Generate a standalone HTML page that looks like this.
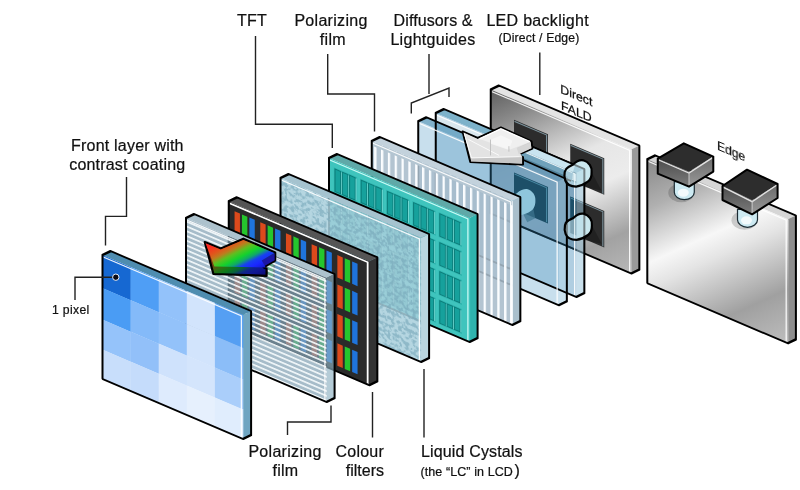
<!DOCTYPE html>
<html><head><meta charset="utf-8"><title>LCD layers</title>
<style>
html,body{margin:0;padding:0;background:#fff;}
body{width:800px;height:490px;overflow:hidden;font-family:"Liberation Sans",sans-serif;}
svg{display:block;}
text{font-family:"Liberation Sans",sans-serif;fill:#111;}
</style></head><body>
<svg width="800" height="490" viewBox="0 0 800 490">
<defs>
<linearGradient id="metal1" x1="0" y1="0" x2="1" y2="1">
 <stop offset="0" stop-color="#5e5e5e"/><stop offset="0.15" stop-color="#8a8a8a"/>
 <stop offset="0.42" stop-color="#e6e6e6"/><stop offset="0.58" stop-color="#ececec"/>
 <stop offset="0.82" stop-color="#a2a2a2"/><stop offset="1" stop-color="#b8b8b8"/>
</linearGradient>
<linearGradient id="metal2" x1="0" y1="0" x2="1" y2="1">
 <stop offset="0" stop-color="#888"/><stop offset="0.2" stop-color="#b0b0b0"/>
 <stop offset="0.42" stop-color="#f7f7f7"/><stop offset="0.52" stop-color="#e4e4e4"/>
 <stop offset="0.78" stop-color="#a0a0a0"/><stop offset="1" stop-color="#bebebe"/>
</linearGradient>
<linearGradient id="dif" x1="0" y1="0" x2="0" y2="1">
 <stop offset="0" stop-color="#78a9c8"/><stop offset="0.5" stop-color="#8fbbd6"/>
 <stop offset="0.52" stop-color="#a9cfe5"/><stop offset="1" stop-color="#bcdcee"/>
</linearGradient>
<linearGradient id="rgb" gradientUnits="userSpaceOnUse" x1="207.2" y1="244.6" x2="229.7" y2="289.1">
 <stop offset="0" stop-color="#ff2626"/><stop offset="0.1" stop-color="#f5341f"/>
 <stop offset="0.22" stop-color="#e0561c"/><stop offset="0.31" stop-color="#c07a1e"/><stop offset="0.41" stop-color="#5cc020"/>
 <stop offset="0.52" stop-color="#14d22c"/><stop offset="0.61" stop-color="#10a868"/>
 <stop offset="0.70" stop-color="#1840f0"/><stop offset="0.80" stop-color="#1a28ff"/><stop offset="1" stop-color="#1410b0"/>
</linearGradient>
<linearGradient id="rgbd" gradientUnits="userSpaceOnUse" x1="207.2" y1="251.6" x2="229.7" y2="296.1">
 <stop offset="0" stop-color="#ff2626"/><stop offset="0.1" stop-color="#f5341f"/>
 <stop offset="0.22" stop-color="#e0561c"/><stop offset="0.31" stop-color="#c07a1e"/><stop offset="0.41" stop-color="#5cc020"/>
 <stop offset="0.52" stop-color="#14d22c"/><stop offset="0.61" stop-color="#10a868"/>
 <stop offset="0.70" stop-color="#1840f0"/><stop offset="0.80" stop-color="#1a28ff"/><stop offset="1" stop-color="#1410b0"/>
</linearGradient>
<linearGradient id="boxl" x1="0" y1="0" x2="0" y2="1"><stop offset="0" stop-color="#4c4c4c"/><stop offset="1" stop-color="#7c7c7c"/></linearGradient>
<linearGradient id="boxr" x1="0" y1="0" x2="0" y2="1"><stop offset="0" stop-color="#6a6a6a"/><stop offset="1" stop-color="#999"/></linearGradient>
<pattern id="hstripe" width="8" height="4.77" patternUnits="userSpaceOnUse" y="-2.3">
 <rect width="8" height="4.77" fill="#84a3b4" fill-opacity="0.72"/><rect y="0" width="8" height="1.8" fill="#f4f9fc" fill-opacity="0.95"/>
</pattern>
<pattern id="vstripe" width="6.84" height="8" patternUnits="userSpaceOnUse" x="2.4">
 <rect width="6.84" height="8" fill="#a8bbca" fill-opacity="0.88"/><rect x="0" width="2.3" height="8" fill="#fbfdff"/>
</pattern>
<filter id="mottle" x="0" y="0" width="100%" height="100%" color-interpolation-filters="sRGB">
 <feTurbulence type="fractalNoise" baseFrequency="0.28" numOctaves="2" seed="11" result="n"/>
 <feColorMatrix in="n" type="matrix" values="0 0 0 0 0.47  0 0 0 0 0.66  0 0 0 0 0.73  9 0 0 0 -4.2"/>
 <feComposite operator="in" in2="SourceGraphic"/>
</filter>
</defs>
<rect width="800" height="490" fill="#fff"/>

<g transform="matrix(1 0.4270 0 1 647.3 159.3)">
<polygon points="0,0 8.1,-7.36 148.6,-7.36 140.5,0" fill="#d6d6d6"/><polygon points="140.5,0 148.6,-7.36 148.6,116.64 140.5,124.0" fill="#8e8e8e"/><rect x="0" y="0" width="141.2" height="124.0" fill="url(#metal2)"/>
<polyline points="1,1.6 138.9,1.6 138.9,123.0" fill="none" stroke="#fff" stroke-opacity="0.9" stroke-width="1.3"/><polygon points="0,0 8.1,-7.36 148.6,-7.36 148.6,116.64 140.5,124.0 0,124.0" fill="none" stroke="#000" stroke-width="2" stroke-linejoin="round"/>
</g>
<ellipse cx="681.3" cy="192.7" rx="13" ry="9.5" fill="#000" opacity="0.17"/><path d="M674.3,181.7 V192.2 a10,7.5 0 0 0 20,0 V181.7 z" fill="#cdeaf2" stroke="#1c2c34" stroke-width="1.2"/><ellipse cx="683.3" cy="192.7" rx="5.5" ry="4" fill="#fff" opacity="0.75"/><polygon points="657.75,158.7 689,171.7 689,186.7 657.75,173.7" fill="url(#boxl)"/><polygon points="689,171.7 713.3,156.6 713.3,171.6 689,186.7" fill="url(#boxr)"/><polygon points="657.75,158.7 683.8,143.3 713.3,156.6 689,171.7" fill="#2d2d2d"/><polyline points="658.75,160.0 689,173.1 712.3,157.9" fill="none" stroke="#e4e4e4" stroke-width="1.3"/><line x1="689" y1="172.7" x2="689" y2="185.7" stroke="#c8c8c8" stroke-width="1"/><polygon points="657.75,158.7 683.8,143.3 713.3,156.6 713.3,171.6 689,186.7 657.75,173.7" fill="none" stroke="#000" stroke-width="2" stroke-linejoin="round"/>
<ellipse cx="744.5" cy="220.3" rx="13" ry="9.5" fill="#000" opacity="0.17"/><path d="M737.5,209.3 V219.8 a10,7.5 0 0 0 20,0 V209.3 z" fill="#cdeaf2" stroke="#1c2c34" stroke-width="1.2"/><ellipse cx="746.5" cy="220.3" rx="5.5" ry="4" fill="#fff" opacity="0.75"/><polygon points="722.5,186 752.1,200.3 752.1,214.3 722.5,200" fill="url(#boxl)"/><polygon points="752.1,200.3 777.6,184 777.6,198 752.1,214.3" fill="url(#boxr)"/><polygon points="722.5,186 747,169.7 777.6,184 752.1,200.3" fill="#2d2d2d"/><polyline points="723.5,187.3 752.1,201.70000000000002 776.6,185.3" fill="none" stroke="#e4e4e4" stroke-width="1.3"/><line x1="752.1" y1="201.3" x2="752.1" y2="213.3" stroke="#c8c8c8" stroke-width="1"/><polygon points="722.5,186 747,169.7 777.6,184 777.6,198 752.1,214.3 722.5,200" fill="none" stroke="#000" stroke-width="2" stroke-linejoin="round"/>
<g transform="matrix(1 0.4270 0 1 490.75 89.5)">
<polygon points="0,0 8.1,-7.36 148.6,-7.36 140.5,0" fill="#e4e4e4"/><polygon points="140.5,0 148.6,-7.36 148.6,116.64 140.5,124.0" fill="#9a9a9a"/><rect x="0" y="0" width="141.2" height="124.0" fill="url(#metal1)"/>
<rect x="23.25" y="20.3" width="34" height="36.5" fill="#2c2c2c"/>
<polyline points="23.75,21.7 55.85,21.7 55.85,56.3" fill="none" stroke="#7d949e" stroke-width="1.1"/>
<rect x="79.5" y="20.3" width="34" height="36.5" fill="#2c2c2c"/>
<polyline points="80.0,21.7 112.1,21.7 112.1,56.3" fill="none" stroke="#7d949e" stroke-width="1.1"/>
<rect x="23.25" y="73" width="34" height="36.5" fill="#2c2c2c"/>
<polyline points="23.75,74.4 55.85,74.4 55.85,109" fill="none" stroke="#7d949e" stroke-width="1.1"/>
<rect x="79.5" y="73" width="34" height="36.5" fill="#2c2c2c"/>
<polyline points="80.0,74.4 112.1,74.4 112.1,109" fill="none" stroke="#7d949e" stroke-width="1.1"/>
<polyline points="1,1.6 138.9,1.6 138.9,123.0" fill="none" stroke="#fff" stroke-opacity="0.9" stroke-width="1.3"/><polygon points="0,0 8.1,-7.36 148.6,-7.36 148.6,116.64 140.5,124.0 0,124.0" fill="none" stroke="#000" stroke-width="2" stroke-linejoin="round"/>
</g>
<path d="M587.5,164.5 L601.5,190.5 L581.5,186.5 z" fill="#000" opacity="0.25"/><path d="M573.1,164.6 C576.5,161.0 580.7,160.0 583.2,160.3 C589.1,162.0 592.1,167.0 591.6,172.0 C591.8,177.0 589.6,180.5 587.8,181.7 C583.9,184.5 579.7,186.2 576.2,186.6 C570.2,186.5 566.6,184.0 565.3,180.5 C564.2,177.5 564.2,174.5 564.7,172.0 C565.3,169.5 566.6,168.0 568.5,167.0 Z" fill="#c4e4ec"/>
<path d="M531.25,193.2 L545.25,219.2 L525.25,215.2 z" fill="#000" opacity="0.25"/><path d="M516.8,193.3 C520.3,189.7 524.5,188.7 527.0,189.0 C532.9,190.7 535.8,195.7 535.4,200.7 C535.5,205.7 533.4,209.2 531.5,210.4 C527.6,213.2 523.4,214.9 520.0,215.3 C514.0,215.2 510.3,212.7 509.0,209.2 C508.0,206.2 508.0,203.2 508.4,200.7 C509.0,198.2 510.3,196.7 512.3,195.7 Z" fill="#c4e4ec"/>
<path d="M587.8,217.8 L601.8,243.8 L581.8,239.8 z" fill="#000" opacity="0.25"/><path d="M573.4,217.9 C576.8,214.3 581.0,213.3 583.5,213.6 C589.4,215.3 592.4,220.3 591.9,225.3 C592.0,230.3 589.9,233.8 588.1,235.0 C584.2,237.8 580.0,239.5 576.5,239.9 C570.5,239.8 566.9,237.3 565.6,233.8 C564.5,230.8 564.5,227.8 565.0,225.3 C565.6,222.8 566.9,221.3 568.8,220.3 Z" fill="#c4e4ec"/>
<clipPath id="cd2"><polygon points="435.75,113 576.25,173 576.25,297.0 435.75,237.0"/></clipPath>
<clipPath id="cd1"><polygon points="418.25,121.25 558.75,181.25 558.75,305.25 418.25,245.25"/></clipPath>
<g transform="matrix(1 0.4270 0 1 435.75 113)">
<polygon points="0,0 8.1,-7.36 148.6,-7.36 140.5,0" fill="#7db2ca"/>
<polygon points="140.5,0 148.6,-7.36 148.6,116.64 140.5,124.0" fill="#9cc6dc" opacity="0.55"/>
<rect width="140.5" height="124.0" fill="#80b0cf" opacity="0.62"/>
</g>
<g transform="matrix(1 0.4270 0 1 418.25 121.25)">
<polygon points="0,0 8.1,-7.36 148.6,-7.36 140.5,0" fill="#6aa3c2" opacity="0.85"/>
<polygon points="140.5,0 148.6,-7.36 148.6,116.64 140.5,124.0" fill="#b5d6e8" opacity="0.7"/>
<rect width="140.5" height="124.0" fill="#86b8d6" opacity="0.45"/>
</g>
<g clip-path="url(#cd2)">
<polygon points="490.75,89.5 631.25,149.5 631.25,273.5 490.75,213.5" fill="#6692ae" opacity="0.62"/>
<g transform="matrix(1 0.4270 0 1 490.75 89.5)">
<rect x="23.25" y="20.3" width="34" height="36.5" fill="#1d4f68"/>
<polyline points="23.75,21.7 55.85,21.7 55.85,56.3" fill="none" stroke="#4a8aa5" stroke-width="1.1"/>
<rect x="79.5" y="20.3" width="34" height="36.5" fill="#1d4f68"/>
<polyline points="80.0,21.7 112.1,21.7 112.1,56.3" fill="none" stroke="#4a8aa5" stroke-width="1.1"/>
<rect x="23.25" y="73" width="34" height="36.5" fill="#1d4f68"/>
<polyline points="23.75,74.4 55.85,74.4 55.85,109" fill="none" stroke="#4a8aa5" stroke-width="1.1"/>
<rect x="79.5" y="73" width="34" height="36.5" fill="#1d4f68"/>
<polyline points="80.0,74.4 112.1,74.4 112.1,109" fill="none" stroke="#4a8aa5" stroke-width="1.1"/>
</g>
<polyline points="490.75,89.5 490.75,213.5 631.25,273.5" fill="none" stroke="#102c3c" stroke-width="1.9" stroke-linejoin="round"/>
<path d="M523.25,214.2 L533.25,208.2 L535.25,218.2 L527.25,222.2 z" fill="#3f7690" opacity="0.7"/>
<path d="M516.8,193.3 C520.3,189.7 524.5,188.7 527.0,189.0 C532.9,190.7 535.8,195.7 535.4,200.7 C535.5,205.7 533.4,209.2 531.5,210.4 C527.6,213.2 523.4,214.9 520.0,215.3 C514.0,215.2 510.3,212.7 509.0,209.2 C508.0,206.2 508.0,203.2 508.4,200.7 C509.0,198.2 510.3,196.7 512.3,195.7 Z" fill="#8fc6dc"/>
</g>
<g transform="matrix(1 0.4270 0 1 435.75 113)">
<rect y="1" width="140.5" height="6.5" fill="#dfeaf0" opacity="0.9"/>
<line x1="0" y1="8" x2="140.5" y2="8" stroke="#fff" stroke-width="1.2"/>
<polyline points="1,1.6 138.9,1.6 138.9,123.0" fill="none" stroke="#fff" stroke-opacity="0.9" stroke-width="1.3"/><polygon points="0,0 8.1,-7.36 148.6,-7.36 148.6,116.64 140.5,124.0 0,124.0" fill="none" stroke="#000" stroke-width="2" stroke-linejoin="round"/>
</g>
<g transform="matrix(1 0.4270 0 1 418.25 121.25)">
<polyline points="1,1.6 138.9,1.6 138.9,123.0" fill="none" stroke="#fff" stroke-opacity="0.9" stroke-width="1.3"/><polygon points="0,0 8.1,-7.36 148.6,-7.36 148.6,116.64 140.5,124.0 0,124.0" fill="none" stroke="#000" stroke-width="2" stroke-linejoin="round"/>
</g>
<polygon points="521.5,150.5 573,172 572,181.5 520,158.5" fill="#5f97b3" opacity="0.85"/>
<polygon points="524,143.5 575,165 573,172 521.5,150.5" fill="#cfe8f3" opacity="0.92"/>
<polyline points="523,151.5 572,172.5" fill="none" stroke="#fff" stroke-width="1" opacity="0.85"/>
<polyline points="526,144 576,165.5" fill="none" stroke="#000" stroke-width="1.8"/>
<polyline points="520,158.5 571,181" fill="none" stroke="#000" stroke-width="1.8"/>
<path d="M573.1,164.6 C576.5,161.0 580.7,160.0 583.2,160.3 C589.1,162.0 592.1,167.0 591.6,172.0 C591.8,177.0 589.6,180.5 587.8,181.7 C583.9,184.5 579.7,186.2 576.2,186.6 C570.2,186.5 566.6,184.0 565.3,180.5 C564.2,177.5 564.2,174.5 564.7,172.0 C565.3,169.5 566.6,168.0 568.5,167.0 Z" fill="#cfeaf0" fill-opacity="0.55" stroke="#000" stroke-width="2.2" stroke-linejoin="round"/>
<path d="M573.4,217.9 C576.8,214.3 581.0,213.3 583.5,213.6 C589.4,215.3 592.4,220.3 591.9,225.3 C592.0,230.3 589.9,233.8 588.1,235.0 C584.2,237.8 580.0,239.5 576.5,239.9 C570.5,239.8 566.9,237.3 565.6,233.8 C564.5,230.8 564.5,227.8 565.0,225.3 C565.6,222.8 566.9,221.3 568.8,220.3 Z" fill="#cfeaf0" fill-opacity="0.55" stroke="#000" stroke-width="2.2" stroke-linejoin="round"/>
<polygon points="462.6,131.5 477.7,138 500.9,127.5 531.5,141.3 532.4,148.7 518,154.8 523,157.2 523,164.6 470.3,162.1" fill="#cfcfcf" stroke="#000" stroke-width="2" stroke-linejoin="round"/>
<polygon points="463.6,132.5 477.7,139.0 500.9,128.7 530.7,141.7 516.8,148.1 522.1,156.6 471.5,158.1" fill="#e3e3e3"/>
<polygon points="479.5,139.0 500.9,129.2 529.7,141.9 510.1,149.5" fill="#efefef"/>
<polygon points="490.5,140.1 500.9,135.2 512.5,140.7 508.9,149.9 490.5,143.8" fill="#f7f7f7" opacity="0.8"/>
<polygon points="471.5,158.1 522.1,156.6 522.1,163.7 470.9,161.5" fill="#c6c6c6"/>
<polygon points="530.7,142.2 531.4,148.3 518.7,154.2 516.8,148.3" fill="#d6d6d6"/>
<polyline points="479.5,138.8 500.9,128.8 529.9,141.7" fill="none" stroke="#fff" stroke-width="1.4"/>
<polyline points="464.2,133.4 471.5,157.9 521.7,156.6" fill="none" stroke="#fff" stroke-width="1" opacity="0.9"/>
<polyline points="468.5,139.5 499.1,155.4" fill="none" stroke="#fff" stroke-width="1" opacity="0.8"/>
<polyline points="490.5,139.5 490.5,155.4" fill="none" stroke="#bdbdbd" stroke-width="0.9"/>
<polyline points="508.9,146.2 508.9,151.7" fill="none" stroke="#bdbdbd" stroke-width="0.9"/>
<g transform="matrix(1 0.4270 0 1 371.75 141)">
<polygon points="0,0 8.1,-7.36 148.6,-7.36 140.5,0" fill="#c3d2dc"/><polygon points="140.5,0 148.6,-7.36 148.6,116.64 140.5,124.0" fill="#a9bfcc"/><rect x="0" y="0" width="141.2" height="124.0" fill="url(#vstripe)"/>
<rect x="0" y="0" width="140.5" height="4.6" fill="#b4c6d2"/>
<polyline points="1,1.6 138.9,1.6 138.9,123.0" fill="none" stroke="#fff" stroke-opacity="0.9" stroke-width="1.3"/><polygon points="0,0 8.1,-7.36 148.6,-7.36 148.6,116.64 140.5,124.0 0,124.0" fill="none" stroke="#000" stroke-width="2" stroke-linejoin="round"/>
</g>
<g transform="matrix(1 0.4270 0 1 329 158)">
<polygon points="0,0 8.1,-7.36 148.6,-7.36 140.5,0" fill="#5fa9a8"/><polygon points="140.5,0 148.6,-7.36 148.6,116.64 140.5,124.0" fill="#2fb3ad"/><rect x="0" y="0" width="141.2" height="124.0" fill="#3fc4bd"/>
<rect x="4.8" y="7.3" width="23.4" height="24.8" fill="#2fb5af"/>
<rect x="6.0" y="8.5" width="5.6" height="22.4" fill="#16a19c" stroke="#0b7c79" stroke-width="1"/>
<line x1="12.5" y1="9.0" x2="12.5" y2="30.9" stroke="#86e2dd" stroke-width="0.7"/>
<rect x="13.3" y="8.5" width="5.6" height="22.4" fill="#16a19c" stroke="#0b7c79" stroke-width="1"/>
<line x1="19.799999999999997" y1="9.0" x2="19.799999999999997" y2="30.9" stroke="#86e2dd" stroke-width="0.7"/>
<rect x="20.6" y="8.5" width="5.6" height="22.4" fill="#16a19c" stroke="#0b7c79" stroke-width="1"/>
<line x1="27.1" y1="9.0" x2="27.1" y2="30.9" stroke="#86e2dd" stroke-width="0.7"/>
<rect x="4.8" y="36.3" width="23.4" height="24.8" fill="#2fb5af"/>
<rect x="6.0" y="37.5" width="5.6" height="22.4" fill="#16a19c" stroke="#0b7c79" stroke-width="1"/>
<line x1="12.5" y1="38.0" x2="12.5" y2="59.9" stroke="#86e2dd" stroke-width="0.7"/>
<rect x="13.3" y="37.5" width="5.6" height="22.4" fill="#16a19c" stroke="#0b7c79" stroke-width="1"/>
<line x1="19.799999999999997" y1="38.0" x2="19.799999999999997" y2="59.9" stroke="#86e2dd" stroke-width="0.7"/>
<rect x="20.6" y="37.5" width="5.6" height="22.4" fill="#16a19c" stroke="#0b7c79" stroke-width="1"/>
<line x1="27.1" y1="38.0" x2="27.1" y2="59.9" stroke="#86e2dd" stroke-width="0.7"/>
<rect x="4.8" y="65.3" width="23.4" height="24.8" fill="#2fb5af"/>
<rect x="6.0" y="66.5" width="5.6" height="22.4" fill="#16a19c" stroke="#0b7c79" stroke-width="1"/>
<line x1="12.5" y1="67.0" x2="12.5" y2="88.9" stroke="#86e2dd" stroke-width="0.7"/>
<rect x="13.3" y="66.5" width="5.6" height="22.4" fill="#16a19c" stroke="#0b7c79" stroke-width="1"/>
<line x1="19.799999999999997" y1="67.0" x2="19.799999999999997" y2="88.9" stroke="#86e2dd" stroke-width="0.7"/>
<rect x="20.6" y="66.5" width="5.6" height="22.4" fill="#16a19c" stroke="#0b7c79" stroke-width="1"/>
<line x1="27.1" y1="67.0" x2="27.1" y2="88.9" stroke="#86e2dd" stroke-width="0.7"/>
<rect x="4.8" y="94.3" width="23.4" height="24.8" fill="#2fb5af"/>
<rect x="6.0" y="95.5" width="5.6" height="22.4" fill="#16a19c" stroke="#0b7c79" stroke-width="1"/>
<line x1="12.5" y1="96.0" x2="12.5" y2="117.9" stroke="#86e2dd" stroke-width="0.7"/>
<rect x="13.3" y="95.5" width="5.6" height="22.4" fill="#16a19c" stroke="#0b7c79" stroke-width="1"/>
<line x1="19.799999999999997" y1="96.0" x2="19.799999999999997" y2="117.9" stroke="#86e2dd" stroke-width="0.7"/>
<rect x="20.6" y="95.5" width="5.6" height="22.4" fill="#16a19c" stroke="#0b7c79" stroke-width="1"/>
<line x1="27.1" y1="96.0" x2="27.1" y2="117.9" stroke="#86e2dd" stroke-width="0.7"/>
<rect x="31.000000000000004" y="7.3" width="23.4" height="24.8" fill="#2fb5af"/>
<rect x="32.2" y="8.5" width="5.6" height="22.4" fill="#16a19c" stroke="#0b7c79" stroke-width="1"/>
<line x1="38.7" y1="9.0" x2="38.7" y2="30.9" stroke="#86e2dd" stroke-width="0.7"/>
<rect x="39.5" y="8.5" width="5.6" height="22.4" fill="#16a19c" stroke="#0b7c79" stroke-width="1"/>
<line x1="46.0" y1="9.0" x2="46.0" y2="30.9" stroke="#86e2dd" stroke-width="0.7"/>
<rect x="46.800000000000004" y="8.5" width="5.6" height="22.4" fill="#16a19c" stroke="#0b7c79" stroke-width="1"/>
<line x1="53.300000000000004" y1="9.0" x2="53.300000000000004" y2="30.9" stroke="#86e2dd" stroke-width="0.7"/>
<rect x="31.000000000000004" y="36.3" width="23.4" height="24.8" fill="#2fb5af"/>
<rect x="32.2" y="37.5" width="5.6" height="22.4" fill="#16a19c" stroke="#0b7c79" stroke-width="1"/>
<line x1="38.7" y1="38.0" x2="38.7" y2="59.9" stroke="#86e2dd" stroke-width="0.7"/>
<rect x="39.5" y="37.5" width="5.6" height="22.4" fill="#16a19c" stroke="#0b7c79" stroke-width="1"/>
<line x1="46.0" y1="38.0" x2="46.0" y2="59.9" stroke="#86e2dd" stroke-width="0.7"/>
<rect x="46.800000000000004" y="37.5" width="5.6" height="22.4" fill="#16a19c" stroke="#0b7c79" stroke-width="1"/>
<line x1="53.300000000000004" y1="38.0" x2="53.300000000000004" y2="59.9" stroke="#86e2dd" stroke-width="0.7"/>
<rect x="31.000000000000004" y="65.3" width="23.4" height="24.8" fill="#2fb5af"/>
<rect x="32.2" y="66.5" width="5.6" height="22.4" fill="#16a19c" stroke="#0b7c79" stroke-width="1"/>
<line x1="38.7" y1="67.0" x2="38.7" y2="88.9" stroke="#86e2dd" stroke-width="0.7"/>
<rect x="39.5" y="66.5" width="5.6" height="22.4" fill="#16a19c" stroke="#0b7c79" stroke-width="1"/>
<line x1="46.0" y1="67.0" x2="46.0" y2="88.9" stroke="#86e2dd" stroke-width="0.7"/>
<rect x="46.800000000000004" y="66.5" width="5.6" height="22.4" fill="#16a19c" stroke="#0b7c79" stroke-width="1"/>
<line x1="53.300000000000004" y1="67.0" x2="53.300000000000004" y2="88.9" stroke="#86e2dd" stroke-width="0.7"/>
<rect x="31.000000000000004" y="94.3" width="23.4" height="24.8" fill="#2fb5af"/>
<rect x="32.2" y="95.5" width="5.6" height="22.4" fill="#16a19c" stroke="#0b7c79" stroke-width="1"/>
<line x1="38.7" y1="96.0" x2="38.7" y2="117.9" stroke="#86e2dd" stroke-width="0.7"/>
<rect x="39.5" y="95.5" width="5.6" height="22.4" fill="#16a19c" stroke="#0b7c79" stroke-width="1"/>
<line x1="46.0" y1="96.0" x2="46.0" y2="117.9" stroke="#86e2dd" stroke-width="0.7"/>
<rect x="46.800000000000004" y="95.5" width="5.6" height="22.4" fill="#16a19c" stroke="#0b7c79" stroke-width="1"/>
<line x1="53.300000000000004" y1="96.0" x2="53.300000000000004" y2="117.9" stroke="#86e2dd" stroke-width="0.7"/>
<rect x="57.199999999999996" y="7.3" width="23.4" height="24.8" fill="#2fb5af"/>
<rect x="58.4" y="8.5" width="5.6" height="22.4" fill="#16a19c" stroke="#0b7c79" stroke-width="1"/>
<line x1="64.9" y1="9.0" x2="64.9" y2="30.9" stroke="#86e2dd" stroke-width="0.7"/>
<rect x="65.7" y="8.5" width="5.6" height="22.4" fill="#16a19c" stroke="#0b7c79" stroke-width="1"/>
<line x1="72.2" y1="9.0" x2="72.2" y2="30.9" stroke="#86e2dd" stroke-width="0.7"/>
<rect x="73.0" y="8.5" width="5.6" height="22.4" fill="#16a19c" stroke="#0b7c79" stroke-width="1"/>
<line x1="79.5" y1="9.0" x2="79.5" y2="30.9" stroke="#86e2dd" stroke-width="0.7"/>
<rect x="57.199999999999996" y="36.3" width="23.4" height="24.8" fill="#2fb5af"/>
<rect x="58.4" y="37.5" width="5.6" height="22.4" fill="#16a19c" stroke="#0b7c79" stroke-width="1"/>
<line x1="64.9" y1="38.0" x2="64.9" y2="59.9" stroke="#86e2dd" stroke-width="0.7"/>
<rect x="65.7" y="37.5" width="5.6" height="22.4" fill="#16a19c" stroke="#0b7c79" stroke-width="1"/>
<line x1="72.2" y1="38.0" x2="72.2" y2="59.9" stroke="#86e2dd" stroke-width="0.7"/>
<rect x="73.0" y="37.5" width="5.6" height="22.4" fill="#16a19c" stroke="#0b7c79" stroke-width="1"/>
<line x1="79.5" y1="38.0" x2="79.5" y2="59.9" stroke="#86e2dd" stroke-width="0.7"/>
<rect x="57.199999999999996" y="65.3" width="23.4" height="24.8" fill="#2fb5af"/>
<rect x="58.4" y="66.5" width="5.6" height="22.4" fill="#16a19c" stroke="#0b7c79" stroke-width="1"/>
<line x1="64.9" y1="67.0" x2="64.9" y2="88.9" stroke="#86e2dd" stroke-width="0.7"/>
<rect x="65.7" y="66.5" width="5.6" height="22.4" fill="#16a19c" stroke="#0b7c79" stroke-width="1"/>
<line x1="72.2" y1="67.0" x2="72.2" y2="88.9" stroke="#86e2dd" stroke-width="0.7"/>
<rect x="73.0" y="66.5" width="5.6" height="22.4" fill="#16a19c" stroke="#0b7c79" stroke-width="1"/>
<line x1="79.5" y1="67.0" x2="79.5" y2="88.9" stroke="#86e2dd" stroke-width="0.7"/>
<rect x="57.199999999999996" y="94.3" width="23.4" height="24.8" fill="#2fb5af"/>
<rect x="58.4" y="95.5" width="5.6" height="22.4" fill="#16a19c" stroke="#0b7c79" stroke-width="1"/>
<line x1="64.9" y1="96.0" x2="64.9" y2="117.9" stroke="#86e2dd" stroke-width="0.7"/>
<rect x="65.7" y="95.5" width="5.6" height="22.4" fill="#16a19c" stroke="#0b7c79" stroke-width="1"/>
<line x1="72.2" y1="96.0" x2="72.2" y2="117.9" stroke="#86e2dd" stroke-width="0.7"/>
<rect x="73.0" y="95.5" width="5.6" height="22.4" fill="#16a19c" stroke="#0b7c79" stroke-width="1"/>
<line x1="79.5" y1="96.0" x2="79.5" y2="117.9" stroke="#86e2dd" stroke-width="0.7"/>
<rect x="83.39999999999999" y="7.3" width="23.4" height="24.8" fill="#2fb5af"/>
<rect x="84.6" y="8.5" width="5.6" height="22.4" fill="#16a19c" stroke="#0b7c79" stroke-width="1"/>
<line x1="91.1" y1="9.0" x2="91.1" y2="30.9" stroke="#86e2dd" stroke-width="0.7"/>
<rect x="91.89999999999999" y="8.5" width="5.6" height="22.4" fill="#16a19c" stroke="#0b7c79" stroke-width="1"/>
<line x1="98.39999999999999" y1="9.0" x2="98.39999999999999" y2="30.9" stroke="#86e2dd" stroke-width="0.7"/>
<rect x="99.19999999999999" y="8.5" width="5.6" height="22.4" fill="#16a19c" stroke="#0b7c79" stroke-width="1"/>
<line x1="105.69999999999999" y1="9.0" x2="105.69999999999999" y2="30.9" stroke="#86e2dd" stroke-width="0.7"/>
<rect x="83.39999999999999" y="36.3" width="23.4" height="24.8" fill="#2fb5af"/>
<rect x="84.6" y="37.5" width="5.6" height="22.4" fill="#16a19c" stroke="#0b7c79" stroke-width="1"/>
<line x1="91.1" y1="38.0" x2="91.1" y2="59.9" stroke="#86e2dd" stroke-width="0.7"/>
<rect x="91.89999999999999" y="37.5" width="5.6" height="22.4" fill="#16a19c" stroke="#0b7c79" stroke-width="1"/>
<line x1="98.39999999999999" y1="38.0" x2="98.39999999999999" y2="59.9" stroke="#86e2dd" stroke-width="0.7"/>
<rect x="99.19999999999999" y="37.5" width="5.6" height="22.4" fill="#16a19c" stroke="#0b7c79" stroke-width="1"/>
<line x1="105.69999999999999" y1="38.0" x2="105.69999999999999" y2="59.9" stroke="#86e2dd" stroke-width="0.7"/>
<rect x="83.39999999999999" y="65.3" width="23.4" height="24.8" fill="#2fb5af"/>
<rect x="84.6" y="66.5" width="5.6" height="22.4" fill="#16a19c" stroke="#0b7c79" stroke-width="1"/>
<line x1="91.1" y1="67.0" x2="91.1" y2="88.9" stroke="#86e2dd" stroke-width="0.7"/>
<rect x="91.89999999999999" y="66.5" width="5.6" height="22.4" fill="#16a19c" stroke="#0b7c79" stroke-width="1"/>
<line x1="98.39999999999999" y1="67.0" x2="98.39999999999999" y2="88.9" stroke="#86e2dd" stroke-width="0.7"/>
<rect x="99.19999999999999" y="66.5" width="5.6" height="22.4" fill="#16a19c" stroke="#0b7c79" stroke-width="1"/>
<line x1="105.69999999999999" y1="67.0" x2="105.69999999999999" y2="88.9" stroke="#86e2dd" stroke-width="0.7"/>
<rect x="83.39999999999999" y="94.3" width="23.4" height="24.8" fill="#2fb5af"/>
<rect x="84.6" y="95.5" width="5.6" height="22.4" fill="#16a19c" stroke="#0b7c79" stroke-width="1"/>
<line x1="91.1" y1="96.0" x2="91.1" y2="117.9" stroke="#86e2dd" stroke-width="0.7"/>
<rect x="91.89999999999999" y="95.5" width="5.6" height="22.4" fill="#16a19c" stroke="#0b7c79" stroke-width="1"/>
<line x1="98.39999999999999" y1="96.0" x2="98.39999999999999" y2="117.9" stroke="#86e2dd" stroke-width="0.7"/>
<rect x="99.19999999999999" y="95.5" width="5.6" height="22.4" fill="#16a19c" stroke="#0b7c79" stroke-width="1"/>
<line x1="105.69999999999999" y1="96.0" x2="105.69999999999999" y2="117.9" stroke="#86e2dd" stroke-width="0.7"/>
<rect x="109.6" y="7.3" width="23.4" height="24.8" fill="#2fb5af"/>
<rect x="110.8" y="8.5" width="5.6" height="22.4" fill="#16a19c" stroke="#0b7c79" stroke-width="1"/>
<line x1="117.3" y1="9.0" x2="117.3" y2="30.9" stroke="#86e2dd" stroke-width="0.7"/>
<rect x="118.1" y="8.5" width="5.6" height="22.4" fill="#16a19c" stroke="#0b7c79" stroke-width="1"/>
<line x1="124.6" y1="9.0" x2="124.6" y2="30.9" stroke="#86e2dd" stroke-width="0.7"/>
<rect x="125.39999999999999" y="8.5" width="5.6" height="22.4" fill="#16a19c" stroke="#0b7c79" stroke-width="1"/>
<line x1="131.9" y1="9.0" x2="131.9" y2="30.9" stroke="#86e2dd" stroke-width="0.7"/>
<rect x="109.6" y="36.3" width="23.4" height="24.8" fill="#2fb5af"/>
<rect x="110.8" y="37.5" width="5.6" height="22.4" fill="#16a19c" stroke="#0b7c79" stroke-width="1"/>
<line x1="117.3" y1="38.0" x2="117.3" y2="59.9" stroke="#86e2dd" stroke-width="0.7"/>
<rect x="118.1" y="37.5" width="5.6" height="22.4" fill="#16a19c" stroke="#0b7c79" stroke-width="1"/>
<line x1="124.6" y1="38.0" x2="124.6" y2="59.9" stroke="#86e2dd" stroke-width="0.7"/>
<rect x="125.39999999999999" y="37.5" width="5.6" height="22.4" fill="#16a19c" stroke="#0b7c79" stroke-width="1"/>
<line x1="131.9" y1="38.0" x2="131.9" y2="59.9" stroke="#86e2dd" stroke-width="0.7"/>
<rect x="109.6" y="65.3" width="23.4" height="24.8" fill="#2fb5af"/>
<rect x="110.8" y="66.5" width="5.6" height="22.4" fill="#16a19c" stroke="#0b7c79" stroke-width="1"/>
<line x1="117.3" y1="67.0" x2="117.3" y2="88.9" stroke="#86e2dd" stroke-width="0.7"/>
<rect x="118.1" y="66.5" width="5.6" height="22.4" fill="#16a19c" stroke="#0b7c79" stroke-width="1"/>
<line x1="124.6" y1="67.0" x2="124.6" y2="88.9" stroke="#86e2dd" stroke-width="0.7"/>
<rect x="125.39999999999999" y="66.5" width="5.6" height="22.4" fill="#16a19c" stroke="#0b7c79" stroke-width="1"/>
<line x1="131.9" y1="67.0" x2="131.9" y2="88.9" stroke="#86e2dd" stroke-width="0.7"/>
<rect x="109.6" y="94.3" width="23.4" height="24.8" fill="#2fb5af"/>
<rect x="110.8" y="95.5" width="5.6" height="22.4" fill="#16a19c" stroke="#0b7c79" stroke-width="1"/>
<line x1="117.3" y1="96.0" x2="117.3" y2="117.9" stroke="#86e2dd" stroke-width="0.7"/>
<rect x="118.1" y="95.5" width="5.6" height="22.4" fill="#16a19c" stroke="#0b7c79" stroke-width="1"/>
<line x1="124.6" y1="96.0" x2="124.6" y2="117.9" stroke="#86e2dd" stroke-width="0.7"/>
<rect x="125.39999999999999" y="95.5" width="5.6" height="22.4" fill="#16a19c" stroke="#0b7c79" stroke-width="1"/>
<line x1="131.9" y1="96.0" x2="131.9" y2="117.9" stroke="#86e2dd" stroke-width="0.7"/>
<polyline points="1,1.6 138.9,1.6 138.9,123.0" fill="none" stroke="#d8fffb" stroke-opacity="0.9" stroke-width="1.3"/><polygon points="0,0 8.1,-7.36 148.6,-7.36 148.6,116.64 140.5,124.0 0,124.0" fill="none" stroke="#000" stroke-width="2" stroke-linejoin="round"/>
</g>
<g transform="matrix(1 0.4270 0 1 280.5 178)">
<polygon points="0,0 8.1,-7.36 148.6,-7.36 140.5,0" fill="#a5c3cf"/><polygon points="140.5,0 148.6,-7.36 148.6,116.64 140.5,124.0" fill="#b9d6e0"/>
<rect width="140.5" height="124.0" fill="#a9cfdc" opacity="0.86"/>
<rect width="140.5" height="124.0" fill="#86b2c2" filter="url(#mottle)" opacity="0.62"/>
<polyline points="1,1.6 138.9,1.6 138.9,123.0" fill="none" stroke="#fff" stroke-opacity="0.9" stroke-width="1.3"/><polygon points="0,0 8.1,-7.36 148.6,-7.36 148.6,116.64 140.5,124.0 0,124.0" fill="none" stroke="#000" stroke-width="2" stroke-linejoin="round"/>
</g>
<g transform="matrix(1 0.4270 0 1 228.75 201.25)">
<polygon points="0,0 8.1,-7.36 148.6,-7.36 140.5,0" fill="#555"/><polygon points="140.5,0 148.6,-7.36 148.6,116.64 140.5,124.0" fill="#333"/><rect x="0" y="0" width="141.2" height="124.0" fill="#2a2a2a"/>
<rect x="5.8" y="7.5" width="5.4" height="22.4" fill="#dc4a1c"/>
<rect x="13.2" y="7.5" width="5.4" height="22.4" fill="#25c62d"/>
<rect x="20.6" y="7.5" width="5.4" height="22.4" fill="#1f74dc"/>
<rect x="5.8" y="36.9" width="5.4" height="22.4" fill="#dc4a1c"/>
<rect x="13.2" y="36.9" width="5.4" height="22.4" fill="#25c62d"/>
<rect x="20.6" y="36.9" width="5.4" height="22.4" fill="#1f74dc"/>
<rect x="5.8" y="66.3" width="5.4" height="22.4" fill="#dc4a1c"/>
<rect x="13.2" y="66.3" width="5.4" height="22.4" fill="#25c62d"/>
<rect x="20.6" y="66.3" width="5.4" height="22.4" fill="#1f74dc"/>
<rect x="5.8" y="95.7" width="5.4" height="22.4" fill="#dc4a1c"/>
<rect x="13.2" y="95.7" width="5.4" height="22.4" fill="#25c62d"/>
<rect x="20.6" y="95.7" width="5.4" height="22.4" fill="#1f74dc"/>
<rect x="31.5" y="7.5" width="5.4" height="22.4" fill="#dc4a1c"/>
<rect x="38.9" y="7.5" width="5.4" height="22.4" fill="#25c62d"/>
<rect x="46.3" y="7.5" width="5.4" height="22.4" fill="#1f74dc"/>
<rect x="31.5" y="36.9" width="5.4" height="22.4" fill="#dc4a1c"/>
<rect x="38.9" y="36.9" width="5.4" height="22.4" fill="#25c62d"/>
<rect x="46.3" y="36.9" width="5.4" height="22.4" fill="#1f74dc"/>
<rect x="31.5" y="66.3" width="5.4" height="22.4" fill="#dc4a1c"/>
<rect x="38.9" y="66.3" width="5.4" height="22.4" fill="#25c62d"/>
<rect x="46.3" y="66.3" width="5.4" height="22.4" fill="#1f74dc"/>
<rect x="31.5" y="95.7" width="5.4" height="22.4" fill="#dc4a1c"/>
<rect x="38.9" y="95.7" width="5.4" height="22.4" fill="#25c62d"/>
<rect x="46.3" y="95.7" width="5.4" height="22.4" fill="#1f74dc"/>
<rect x="57.2" y="7.5" width="5.4" height="22.4" fill="#dc4a1c"/>
<rect x="64.6" y="7.5" width="5.4" height="22.4" fill="#25c62d"/>
<rect x="72.0" y="7.5" width="5.4" height="22.4" fill="#1f74dc"/>
<rect x="57.2" y="36.9" width="5.4" height="22.4" fill="#dc4a1c"/>
<rect x="64.6" y="36.9" width="5.4" height="22.4" fill="#25c62d"/>
<rect x="72.0" y="36.9" width="5.4" height="22.4" fill="#1f74dc"/>
<rect x="57.2" y="66.3" width="5.4" height="22.4" fill="#dc4a1c"/>
<rect x="64.6" y="66.3" width="5.4" height="22.4" fill="#25c62d"/>
<rect x="72.0" y="66.3" width="5.4" height="22.4" fill="#1f74dc"/>
<rect x="57.2" y="95.7" width="5.4" height="22.4" fill="#dc4a1c"/>
<rect x="64.6" y="95.7" width="5.4" height="22.4" fill="#25c62d"/>
<rect x="72.0" y="95.7" width="5.4" height="22.4" fill="#1f74dc"/>
<rect x="82.9" y="7.5" width="5.4" height="22.4" fill="#dc4a1c"/>
<rect x="90.3" y="7.5" width="5.4" height="22.4" fill="#25c62d"/>
<rect x="97.7" y="7.5" width="5.4" height="22.4" fill="#1f74dc"/>
<rect x="82.9" y="36.9" width="5.4" height="22.4" fill="#dc4a1c"/>
<rect x="90.3" y="36.9" width="5.4" height="22.4" fill="#25c62d"/>
<rect x="97.7" y="36.9" width="5.4" height="22.4" fill="#1f74dc"/>
<rect x="82.9" y="66.3" width="5.4" height="22.4" fill="#dc4a1c"/>
<rect x="90.3" y="66.3" width="5.4" height="22.4" fill="#25c62d"/>
<rect x="97.7" y="66.3" width="5.4" height="22.4" fill="#1f74dc"/>
<rect x="82.9" y="95.7" width="5.4" height="22.4" fill="#dc4a1c"/>
<rect x="90.3" y="95.7" width="5.4" height="22.4" fill="#25c62d"/>
<rect x="97.7" y="95.7" width="5.4" height="22.4" fill="#1f74dc"/>
<rect x="108.6" y="7.5" width="5.4" height="22.4" fill="#dc4a1c"/>
<rect x="116.0" y="7.5" width="5.4" height="22.4" fill="#25c62d"/>
<rect x="123.4" y="7.5" width="5.4" height="22.4" fill="#1f74dc"/>
<rect x="108.6" y="36.9" width="5.4" height="22.4" fill="#dc4a1c"/>
<rect x="116.0" y="36.9" width="5.4" height="22.4" fill="#25c62d"/>
<rect x="123.4" y="36.9" width="5.4" height="22.4" fill="#1f74dc"/>
<rect x="108.6" y="66.3" width="5.4" height="22.4" fill="#dc4a1c"/>
<rect x="116.0" y="66.3" width="5.4" height="22.4" fill="#25c62d"/>
<rect x="123.4" y="66.3" width="5.4" height="22.4" fill="#1f74dc"/>
<rect x="108.6" y="95.7" width="5.4" height="22.4" fill="#dc4a1c"/>
<rect x="116.0" y="95.7" width="5.4" height="22.4" fill="#25c62d"/>
<rect x="123.4" y="95.7" width="5.4" height="22.4" fill="#1f74dc"/>
<polyline points="1,1.6 138.9,1.6 138.9,123.0" fill="none" stroke="#fff" stroke-opacity="1" stroke-width="1.8"/><polygon points="0,0 8.1,-7.36 148.6,-7.36 148.6,116.64 140.5,124.0 0,124.0" fill="none" stroke="#000" stroke-width="2" stroke-linejoin="round"/>
</g>
<g transform="matrix(1 0.4270 0 1 186 218)">
<polygon points="0,0 8.1,-7.36 148.6,-7.36 140.5,0" fill="#adc2cd"/>
<polygon points="140.5,0 148.6,-7.36 148.6,116.64 140.5,124.0" fill="#8fb1c2" opacity="0.66"/>
<rect width="140.5" height="124.0" fill="url(#hstripe)"/>
<polyline points="1,1.6 138.9,1.6 138.9,123.0" fill="none" stroke="#fff" stroke-opacity="0.9" stroke-width="1.3"/><polygon points="0,0 8.1,-7.36 148.6,-7.36 148.6,116.64 140.5,124.0 0,124.0" fill="none" stroke="#000" stroke-width="2" stroke-linejoin="round"/>
</g>
<polygon points="204.8,242.1 220.7,248.5 243.4,238.7 275.2,252.5 275.2,260.5 263.6,267.2 266.6,268.8 266.6,275.8 213.4,274" fill="url(#rgbd)" stroke="#000" stroke-width="2.2" stroke-linejoin="round"/>
<polygon points="204.8,242.1 220.7,248.5 243.4,238.7 275.2,252.5 275.2,260.5 263.6,267.2 266.6,268.8 266.6,275.8 213.4,274" fill="#000" opacity="0.42"/>
<polygon points="274.6,253.2 274.6,260.2 263.6,266.6 261.7,260.5" fill="#1c16a4"/>
<polygon points="205.6,243.3 220.7,249.6 243.4,239.9 274.2,253 261.7,260.5 265.8,267.6 214.3,266.4" fill="url(#rgb)"/>
<g transform="matrix(1 0.4270 0 1 102.5 255)">
<polygon points="0,0 8.1,-7.36 148.6,-7.36 140.5,0" fill="#4f8db0"/><polygon points="140.5,0 148.6,-7.36 148.6,116.64 140.5,124.0" fill="#6fa5c1"/>
<rect x="0.00" y="0.00" width="28.40" height="33.30" fill="#1668d2"/>
<rect x="28.10" y="0.00" width="28.40" height="33.30" fill="#4f9ef5"/>
<rect x="56.20" y="0.00" width="28.40" height="33.30" fill="#93c2fa"/>
<rect x="84.30" y="0.00" width="28.40" height="33.30" fill="#d2e4fc"/>
<rect x="112.40" y="0.00" width="28.40" height="33.30" fill="#559ff3"/>
<rect x="0.00" y="33.00" width="28.40" height="31.80" fill="#4a9cf4"/>
<rect x="28.10" y="33.00" width="28.40" height="31.80" fill="#84baf9"/>
<rect x="56.20" y="33.00" width="28.40" height="31.80" fill="#93c2fa"/>
<rect x="84.30" y="33.00" width="28.40" height="31.80" fill="#d2e4fc"/>
<rect x="112.40" y="33.00" width="28.40" height="31.80" fill="#8bbdf8"/>
<rect x="0.00" y="64.50" width="28.40" height="30.30" fill="#95c3fa"/>
<rect x="28.10" y="64.50" width="28.40" height="30.30" fill="#92c0f9"/>
<rect x="56.20" y="64.50" width="28.40" height="30.30" fill="#cfe2fc"/>
<rect x="84.30" y="64.50" width="28.40" height="30.30" fill="#d4e5fc"/>
<rect x="112.40" y="64.50" width="28.40" height="30.30" fill="#aacefa"/>
<rect x="0.00" y="94.50" width="28.40" height="29.80" fill="#c8defb"/>
<rect x="28.10" y="94.50" width="28.40" height="29.80" fill="#c5dcfb"/>
<rect x="56.20" y="94.50" width="28.40" height="29.80" fill="#deebfd"/>
<rect x="84.30" y="94.50" width="28.40" height="29.80" fill="#e6f0fd"/>
<rect x="112.40" y="94.50" width="28.40" height="29.80" fill="#e0edfd"/>
<polyline points="1,1.6 138.9,1.6 138.9,123.0" fill="none" stroke="#fff" stroke-opacity="0.9" stroke-width="1.3"/><polygon points="0,0 8.1,-7.36 148.6,-7.36 148.6,116.64 140.5,124.0 0,124.0" fill="none" stroke="#000" stroke-width="2" stroke-linejoin="round"/>
</g>
<polyline points="255.5,36 255.5,124.3 332.3,124.3 332.3,148" fill="none" stroke="#222" stroke-width="1.4"/>
<polyline points="327.7,54 327.7,94 374.5,94 374.5,131.5" fill="none" stroke="#222" stroke-width="1.4"/>
<polyline points="429,54 429,94" fill="none" stroke="#222" stroke-width="1.4"/>
<polyline points="411.3,113.5 411.3,103 449,88 449,97" fill="none" stroke="#222" stroke-width="1.4"/>
<polyline points="539.8,52.5 539.8,95" fill="none" stroke="#222" stroke-width="1.4"/>
<polyline points="126.5,177 126.5,216.4 105.5,216.4 105.5,245.5" fill="none" stroke="#222" stroke-width="1.4"/>
<polyline points="115.8,277.2 75,277.2 75,300" fill="none" stroke="#222" stroke-width="1.4"/>
<circle cx="115.8" cy="277.2" r="3.2" fill="#0a0a14" stroke="#e8f2ff" stroke-width="1"/>
<polyline points="331,405.5 331,422 287.5,422 287.5,435" fill="none" stroke="#222" stroke-width="1.4"/>
<polyline points="372.5,392 372.5,437.5" fill="none" stroke="#222" stroke-width="1.4"/>
<polyline points="424,369 424,437.5" fill="none" stroke="#222" stroke-width="1.4"/>
<g opacity="0.999" stroke="#111" stroke-width="0.22">
<text x="236.9" y="25.8" font-size="16" text-anchor="start" letter-spacing="0.3">TFT</text>
<text x="294.4" y="25.8" font-size="16" text-anchor="start" letter-spacing="0.3">Polarizing</text>
<text x="319.8" y="45" font-size="16" text-anchor="start" letter-spacing="0.3">film</text>
<text x="393.6" y="25.8" font-size="16" text-anchor="start" letter-spacing="0.1">Diffusors &amp;</text>
<text x="390.4" y="45" font-size="16" text-anchor="start" letter-spacing="0.3">Lightguides</text>
<text x="486.4" y="25.8" font-size="16" text-anchor="start" letter-spacing="0.3">LED backlight</text>
<text x="498.6" y="41.5" font-size="12.2" text-anchor="start" letter-spacing="0.15">(Direct / Edge)</text>
<text x="71.1" y="151.2" font-size="16" text-anchor="start" letter-spacing="0.2">Front layer with</text>
<text x="69.2" y="170.1" font-size="16" text-anchor="start" letter-spacing="0.2">contrast coating</text>
<text x="52" y="313.8" font-size="12.2" text-anchor="start" letter-spacing="0.35">1 pixel</text>
<text x="248.4" y="456.5" font-size="16" text-anchor="start" letter-spacing="0.3">Polarizing</text>
<text x="272.4" y="475.5" font-size="16" text-anchor="start" letter-spacing="0.3">film</text>
<text x="335.6" y="456.5" font-size="16" text-anchor="start" letter-spacing="0.2">Colour</text>
<text x="345.8" y="475.5" font-size="16" text-anchor="start" >filters</text>
<text x="421" y="456.5" font-size="16" text-anchor="start" letter-spacing="0.15">Liquid Cystals</text>
<text x="420.4" y="475.5" font-size="12.5" text-anchor="start" letter-spacing="0.1">(the “LC” in LCD</text>
<text x="514.5" y="476" font-size="16" text-anchor="start" >)</text>
<text font-size="12.3" transform="matrix(1 0.4270 0 1 560.3 92.7)"><tspan x="0" y="0">Direct</tspan><tspan x="0.6" y="16.3">FALD</tspan></text>
<text font-size="12" transform="matrix(1 0.4270 0 1 717.2 149.6)"><tspan x="0" y="0">Edge</tspan></text>
</g>
</svg></body></html>
